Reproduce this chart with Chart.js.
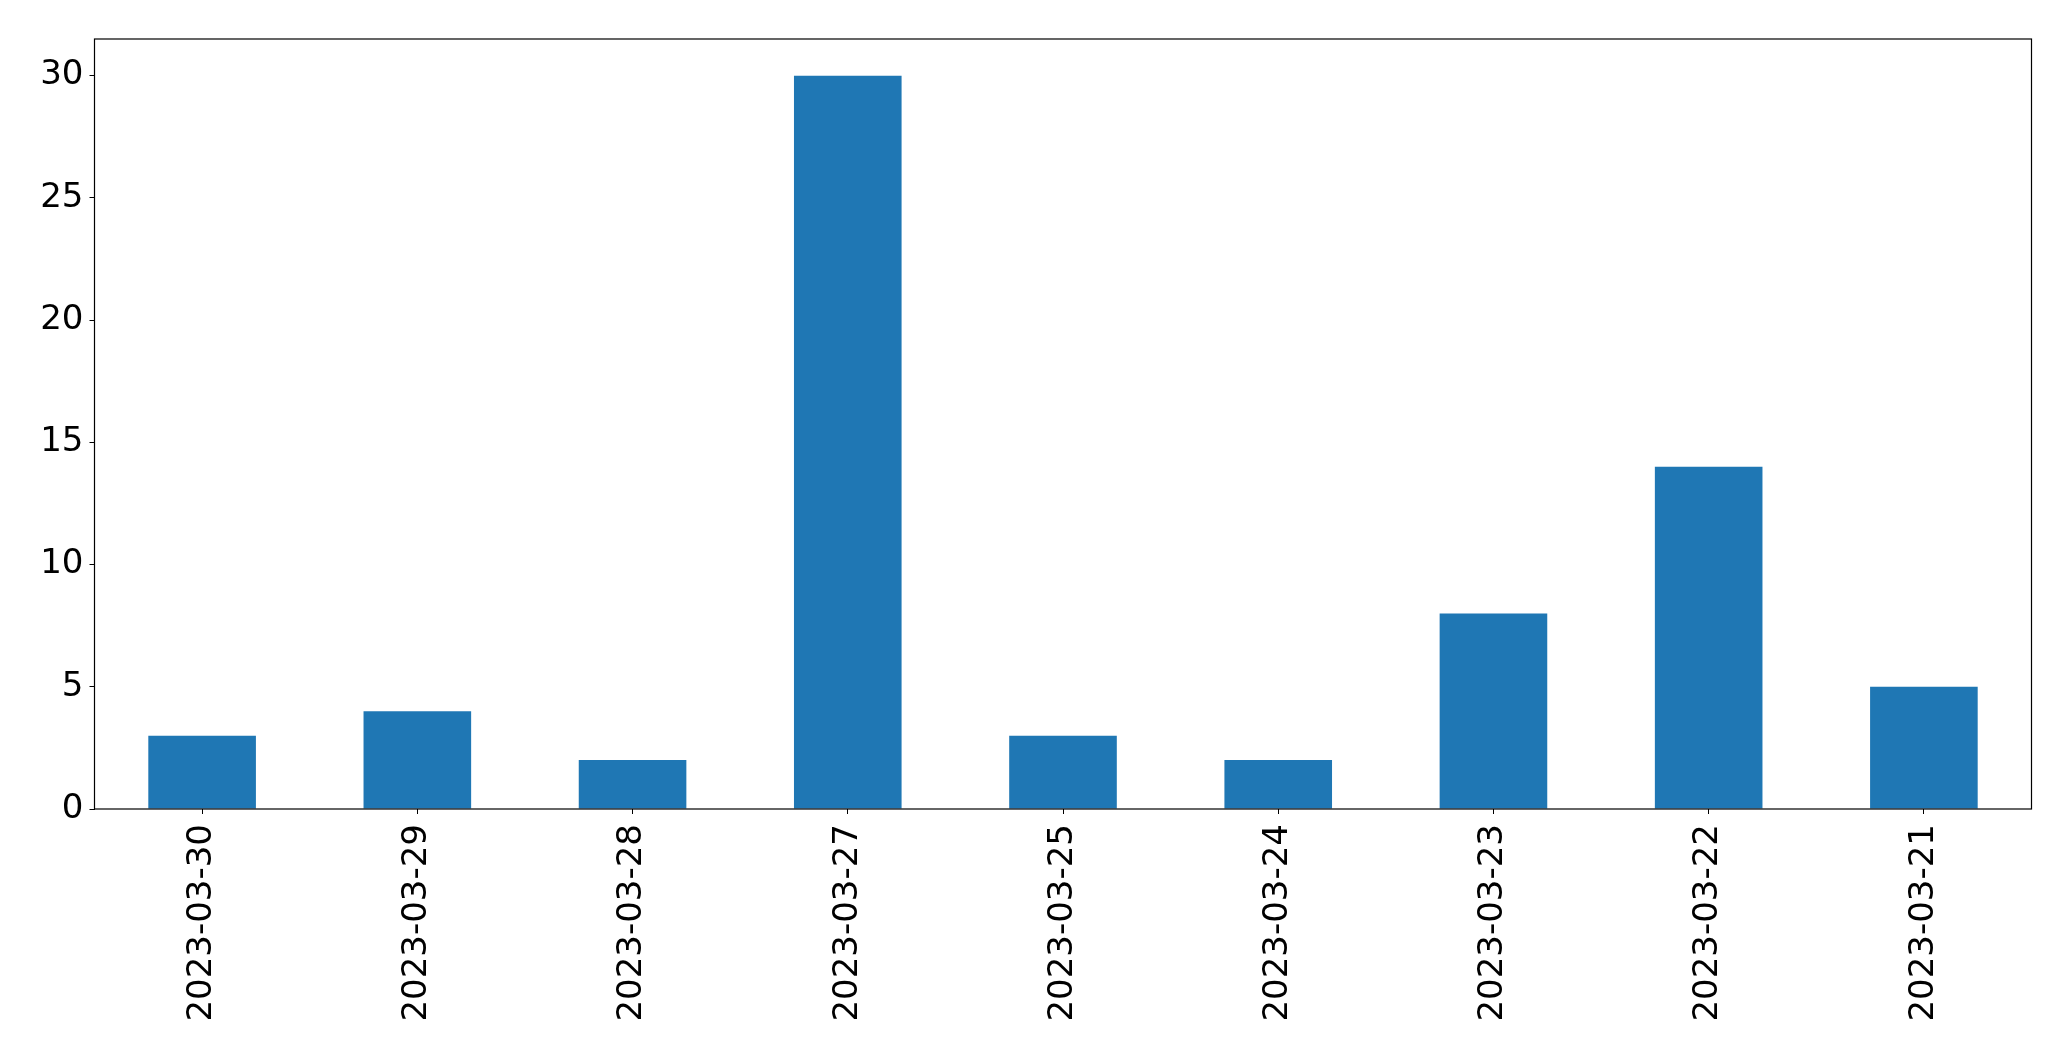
<!DOCTYPE html>
<html>
<head>
<meta charset="utf-8">
<script src="https://cdn.jsdelivr.net/npm/chart.js@4.4.1/dist/chart.umd.min.js"></script>
<style>
  html, body { margin: 0; padding: 0; background: #fff; }
  #wrap { width: 2071px; height: 1061px; position: relative; }
</style>
</head>
<body>
<div id="wrap"><canvas id="barChart"></canvas></div>
<script>
// ── Data ─────────────────────────────────────────────
const DATES = ['2023-03-30', '2023-03-29', '2023-03-28', '2023-03-27', '2023-03-25',
               '2023-03-24', '2023-03-23', '2023-03-22', '2023-03-21'];
const COUNTS = [3, 4, 2, 30, 3, 2, 8, 14, 5];
const Y_TICKS = [0, 5, 10, 15, 20, 25, 30];

// plot box (matplotlib-ish axes frame)
const frameBox = {
  id: 'frameBox',
  afterDraw(chart) {
    const { ctx, chartArea: a } = chart;
    ctx.save();
    ctx.strokeStyle = '#000';
    ctx.lineWidth = 1.2;
    ctx.strokeRect(a.left, a.top, a.right - a.left, a.bottom - a.top);
    ctx.restore();
  }
};

const FONT = { family: 'DejaVu Sans', size: 34 };

new Chart(document.getElementById('barChart'), {
  type: 'bar',
  plugins: [frameBox],
  data: {
    labels: DATES,
    datasets: [{
      data: COUNTS,
      backgroundColor: '#1f77b4',
      borderWidth: 0,
      barPercentage: 0.5,
      categoryPercentage: 1.0,
    }]
  },
  options: {
    responsive: true,
    maintainAspectRatio: false,
    animation: false,
    layout: { padding: { top: 39, right: 39.5, left: 0, bottom: 0 } },
    plugins: { legend: { display: false }, tooltip: { enabled: false } },
    scales: {
      x: {
        offset: true,
        grid: { display: true, drawOnChartArea: false, drawTicks: true, tickLength: 5, color: '#000', offset: false },
        border: { display: false },
        ticks: { font: FONT, color: '#000', minRotation: 90, maxRotation: 90, padding: 10, autoSkip: false },
        afterFit(scale) { scale.height = 1061 - 809; }
      },
      y: {
        min: 0,
        max: 31.5,
        grid: { display: true, drawOnChartArea: false, drawTicks: true, tickLength: 5, color: '#000' },
        border: { display: false },
        ticks: { font: FONT, color: '#000', padding: 6, includeBounds: false },
        afterBuildTicks(scale) { scale.ticks = Y_TICKS.map(v => ({ value: v })); },
        afterFit(scale) { scale.width = 94.5; }
      }
    }
  }
});
</script>
</body>
</html>
